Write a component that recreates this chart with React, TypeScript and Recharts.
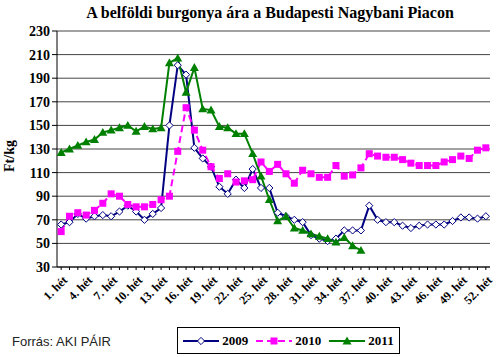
import React from "react";
import { LineChart, Line, XAxis, YAxis, CartesianGrid } from "recharts";

const weeks = [
  "1. hét", "2. hét", "3. hét", "4. hét", "5. hét", "6. hét", "7. hét", "8. hét", "9. hét", "10. hét",
  "11. hét", "12. hét", "13. hét", "14. hét", "15. hét", "16. hét", "17. hét", "18. hét", "19. hét", "20. hét",
  "21. hét", "22. hét", "23. hét", "24. hét", "25. hét", "26. hét", "27. hét", "28. hét", "29. hét", "30. hét",
  "31. hét", "32. hét", "33. hét", "34. hét", "35. hét", "36. hét", "37. hét", "38. hét", "39. hét", "40. hét",
  "41. hét", "42. hét", "43. hét", "44. hét", "45. hét", "46. hét", "47. hét", "48. hét", "49. hét", "50. hét",
  "51. hét", "52. hét",
];

const y2009 = [
  66, 68, 75, 71, 73, 74, 73, 77, 82, 77, 70, 75, 80, 150, 201, 193, 131, 122, 115, 98,
  92, 104, 97, 113, 97, 97, 76, 73, 70, 68, 57, 54, 52, 54, 61, 61, 61, 82, 70, 68,
  68, 65, 63, 65, 66, 66, 66, 69, 72, 72, 71, 73,
];

const y2010 = [
  60, 73, 76, 74, 78, 84, 92, 90, 83, 81, 81, 83, 87, 90, 128, 165, 146, 129, 115, 105,
  109, 102, 103, 104, 119, 111, 117, 109, 101, 112, 109, 106, 106, 116, 107, 108, 114, 126, 124, 123,
  123, 121, 118, 116, 116, 116, 119, 121, 124, 122, 129, 131,
];

const y2011 = [
  127, 130, 133, 136, 138, 144, 146, 148, 150, 145, 149, 147, 148, 203, 207, 178, 199, 164, 163, 149,
  148, 143, 143, 126, 107, 87, 69, 73, 63, 61, 58, 56, 54, 51, 55, 48, 44,
];

const yTicks = [30, 50, 70, 90, 110, 130, 150, 170, 190, 210, 230];

const data = weeks.map((week, i) => ({
  week,
  y2009: y2009[i] ?? null,
  y2010: y2010[i] ?? null,
  y2011: y2011[i] ?? null,
}));

const NAVY = "#000080";
const MAGENTA = "#FF00FF";
const GREEN = "#008000";
const SERIF = "'Liberation Serif', 'Times New Roman', serif";

const Diamond = ({ cx, cy }: any) => {
  if (cx == null || cy == null) return <g />;
  const r = 3.6;
  return (
    <polygon
      points={`${cx},${cy - r} ${cx + r},${cy} ${cx},${cy + r} ${cx - r},${cy}`}
      fill="#fff"
      stroke={NAVY}
      strokeWidth={1}
    />
  );
};

const Square = ({ cx, cy }: any) => {
  if (cx == null || cy == null) return <g />;
  const s = 3.5;
  return <rect x={cx - s} y={cy - s} width={s * 2} height={s * 2} fill={MAGENTA} />;
};

const Triangle = ({ cx, cy }: any) => {
  if (cx == null || cy == null) return <g />;
  const r = 4.5;
  return (
    <polygon
      points={`${cx},${cy - r} ${cx + r},${cy + r * 0.75} ${cx - r},${cy + r * 0.75}`}
      fill={GREEN}
    />
  );
};

const WeekTick = ({ x, y, payload, index }: any) => {
  if (index % 3 !== 0) return <g />;
  return (
    <text
      transform={`translate(${x + 7},${y + 9}) rotate(-45)`}
      textAnchor="end"
      fontFamily={SERIF}
      fontWeight="bold"
      fontSize={12}
      fill="#000"
    >
      {payload.value}
    </text>
  );
};

const series = [
  { key: "y2009", name: "2009", color: NAVY, dash: undefined, Dot: Diamond },
  { key: "y2010", name: "2010", color: MAGENTA, dash: "7 4", Dot: Square },
  { key: "y2011", name: "2011", color: GREEN, dash: undefined, Dot: Triangle },
];

export default function App() {
  return (
    <div
      style={{
        position: "absolute",
        left: 0,
        top: 0,
        width: 500,
        height: 357,
        background: "#fff",
        fontFamily: SERIF,
      }}
    >
      <div
        style={{
          position: "absolute",
          left: 0,
          width: 540,
          top: 4,
          textAlign: "center",
          fontWeight: "bold",
          fontSize: 16,
        }}
      >
        A belföldi burgonya ára a Budapesti Nagybani Piacon
      </div>
      <div
        style={{
          position: "absolute",
          left: 10,
          top: 156,
          transform: "translate(-50%, -50%) rotate(-90deg)",
          fontWeight: "bold",
          fontSize: 14,
          whiteSpace: "nowrap",
        }}
      >
        Ft/kg
      </div>
      <LineChart
        width={500}
        height={357}
        data={data}
        margin={{ top: 31, right: 10, left: 0, bottom: 0 }}
      >
        <CartesianGrid horizontal vertical={false} stroke="#444" />
        <XAxis
          dataKey="week"
          scale="band"
          interval={0}
          height={90}
          tick={<WeekTick />}
          tickLine={{ stroke: "#000" }}
          tickSize={3}
          axisLine={{ stroke: "#000" }}
        />
        <YAxis
          width={57}
          domain={[30, 230]}
          ticks={yTicks}
          interval={0}
          tick={{ fill: "#000", fontFamily: SERIF, fontWeight: "bold", fontSize: 14 }}
          tickLine={{ stroke: "#000" }}
          tickSize={5}
          axisLine={{ stroke: "#000" }}
        />
        <YAxis
          yAxisId="right"
          orientation="right"
          width={0}
          domain={[30, 230]}
          tick={false}
          tickLine={false}
          axisLine={{ stroke: "#888" }}
        />
        {series.map((s) => (
          <Line
            key={s.key}
            dataKey={s.key}
            name={s.name}
            stroke={s.color}
            strokeWidth={2}
            strokeDasharray={s.dash}
            dot={<s.Dot />}
            activeDot={false}
            connectNulls={false}
            isAnimationActive={false}
          />
        ))}
      </LineChart>
      <div
        style={{
          position: "absolute",
          left: 12,
          top: 334,
          fontFamily: "'Liberation Sans', Arial, sans-serif",
          fontSize: 13,
          color: "#222",
        }}
      >
        Forrás: AKI PÁIR
      </div>
      <div
        style={{
          position: "absolute",
          left: 177,
          top: 327,
          width: 221,
          height: 25,
          border: "1px solid #000",
          display: "flex",
          alignItems: "center",
          justifyContent: "center",
          gap: 8,
        }}
      >
        {series.map((s) => (
          <div key={s.key} style={{ display: "flex", alignItems: "center", gap: 3 }}>
            <svg width={36} height={12}>
              <line x1={0} y1={6} x2={36} y2={6} stroke={s.color} strokeWidth={2} strokeDasharray={s.dash} />
              <s.Dot cx={18} cy={6} />
            </svg>
            <span style={{ fontWeight: "bold", fontSize: 13 }}>{s.name}</span>
          </div>
        ))}
      </div>
    </div>
  );
}
